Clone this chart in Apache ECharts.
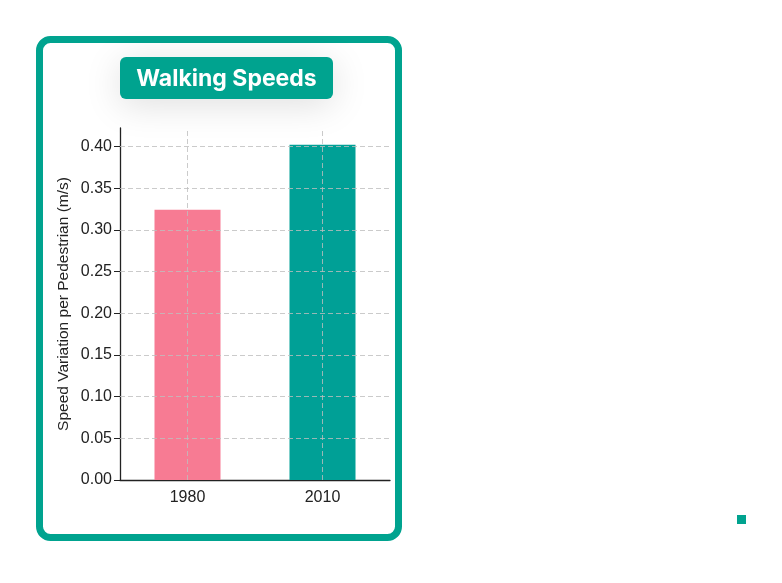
<!DOCTYPE html>
<html>
<head>
<meta charset="utf-8">
<script src="https://cdn.jsdelivr.net/npm/echarts@6/dist/echarts.min.js"></script>
<style>
  html, body { margin: 0; padding: 0; background: #fff; }
  #chart { width: 782px; height: 583px; }
</style>
</head>
<body>
<div id="chart"></div>
<script>
// data
const years = ['1980', '2010'];
const speedVariation = [0.324, 0.402];
const barColors = ['#f77b93', '#00a096'];
const yTicks = [0, 0.05, 0.10, 0.15, 0.20, 0.25, 0.30, 0.35, 0.40];
const yMax = 0.4221;

const teal = '#00a38f';
const gridLine = {color: 'rgba(190,190,190,0.8)', type: [5, 3], width: 1};

let chart = echarts.init(document.getElementById('chart'));

// grid lines sit on top of the bars, so they go in as markLines
let markData = [];
yTicks.filter(v => v > 0).forEach(v => markData.push({yAxis: v}));
years.forEach(c => markData.push({xAxis: c}));

chart.setOption({
  animation: false,
  textStyle: {fontFamily: 'Liberation Sans'},
  graphic: [
    {
      type: 'rect',
      shape: {x: 39.5, y: 39.5, width: 359, height: 498, r: 11},
      style: {fill: '#fff', stroke: teal, lineWidth: 7},
      z: -10
    },
    {
      type: 'rect',
      shape: {x: 120, y: 57, width: 213, height: 42, r: 6},
      style: {
        fill: teal,
        shadowBlur: 36,
        shadowOffsetY: 6,
        shadowColor: 'rgba(0,0,0,0.13)'
      },
      z: 10
    },
    {
      type: 'text',
      x: 226.5,
      y: 79,
      style: {
        text: 'Walking Speeds',
        fill: '#fff',
        font: 'bold 23px Inter',
        align: 'center',
        verticalAlign: 'middle'
      },
      z: 11
    },
    {
      type: 'rect',
      shape: {x: 737, y: 515, width: 9, height: 9},
      style: {fill: teal}
    }
  ],
  grid: {left: 120, right: 392, top: 128, bottom: 103},
  xAxis: {
    type: 'category',
    data: years,
    boundaryGap: true,
    axisLine: {lineStyle: {color: '#222', width: 1.3}},
    axisTick: {alignWithLabel: true, length: 5, lineStyle: {color: '#222'}},
    axisLabel: {color: '#222', fontSize: 16, margin: 10},
    splitLine: {show: false}
  },
  yAxis: {
    type: 'value',
    min: 0,
    max: yMax,
    name: 'Speed Variation per Pedestrian (m/s)',
    nameLocation: 'middle',
    nameGap: 48,
    nameTextStyle: {color: '#222', fontSize: 15.5},
    axisLine: {show: true, lineStyle: {color: '#222', width: 1.3}},
    axisTick: {show: true, length: 6, customValues: yTicks, lineStyle: {color: '#222'}},
    axisLabel: {
      color: '#222',
      fontSize: 16,
      margin: 8,
      customValues: yTicks,
      formatter: v => v.toFixed(2)
    },
    splitLine: {show: false}
  },
  series: [{
    type: 'bar',
    barWidth: 66,
    data: speedVariation.map((v, i) => ({value: v, itemStyle: {color: barColors[i]}})),
    markLine: {
      silent: true,
      symbol: 'none',
      label: {show: false},
      lineStyle: gridLine,
      z: 5,
      data: markData
    }
  }]
});
</script>
</body>
</html>
